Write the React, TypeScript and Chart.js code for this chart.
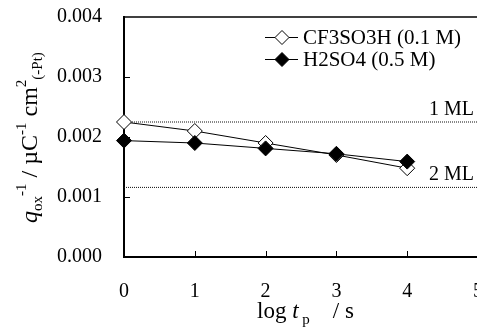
import React, { useEffect, useRef } from 'react';
import { Chart, registerables } from 'chart.js';

Chart.register(...registerables);

// ---- data ----
const logTp = [0, 1, 2, 3, 4];
const cf3so3h = [0.00225, 0.0021, 0.0019, 0.0017, 0.00148];
const h2so4 = [0.00194, 0.0019, 0.00181, 0.00172, 0.00159];
const seriesNames = ['CF3SO3H (0.1 M)', 'H2SO4 (0.5 M)'];
const mlValues = [0.00225, 0.00116];
const mlLabels = ['1 ML', '2 ML'];
const xTicks = [0, 1, 2, 3, 4, 5];
const yTicks = [0, 0.001, 0.002, 0.003, 0.004];

const FONT = "'Liberation Serif', 'Times New Roman', serif";
const W = 520;
const H = 328;

function diamond(ctx: CanvasRenderingContext2D, cx: number, cy: number, r: number, filled: boolean) {
  ctx.beginPath();
  ctx.moveTo(cx - r, cy);
  ctx.lineTo(cx, cy - r);
  ctx.lineTo(cx + r, cy);
  ctx.lineTo(cx, cy + r);
  ctx.closePath();
  ctx.fillStyle = filled ? '#000' : '#fff';
  ctx.fill();
  ctx.lineWidth = 1;
  ctx.strokeStyle = '#000';
  ctx.stroke();
}

const decor = {
  id: 'decor',
  afterDatasetsDraw(chart: any) {
    const { ctx, chartArea: a, scales } = chart;
    const x = scales.x;
    const y = scales.y;
    ctx.save();
    // top frame line
    ctx.strokeStyle = '#000';
    ctx.lineWidth = 1.5;
    ctx.beginPath();
    ctx.moveTo(a.left - 1, a.top);
    ctx.lineTo(a.right + 20, a.top);
    ctx.stroke();
    // inward ticks
    ctx.lineWidth = 1;
    ctx.beginPath();
    yTicks.forEach((v, i) => {
      if (i === 0 || i === yTicks.length - 1) return;
      const py = Math.round(y.getPixelForValue(v)) + 0.5;
      ctx.moveTo(a.left, py);
      ctx.lineTo(a.left + 6, py);
    });
    xTicks.forEach((v, i) => {
      if (i === 0) return;
      const px = Math.round(x.getPixelForValue(v)) + 0.5;
      ctx.moveTo(px, a.bottom);
      ctx.lineTo(px, a.bottom - 6);
    });
    ctx.stroke();

    // ML labels
    ctx.fillStyle = '#000';
    ctx.font = `20px ${FONT}`;
    ctx.textAlign = 'right';
    ctx.textBaseline = 'alphabetic';
    mlValues.forEach((v, i) => {
      ctx.fillText(mlLabels[i], 474, y.getPixelForValue(v) - 7);
    });

    // legend
    const rows = [37, 59];
    seriesNames.forEach((name, i) => {
      const ry = rows[i];
      ctx.strokeStyle = '#000';
      ctx.lineWidth = 1;
      ctx.beginPath();
      ctx.moveTo(265, ry + 0.5);
      ctx.lineTo(298, ry + 0.5);
      ctx.stroke();
      diamond(ctx, 282, ry + 0.5, 7, i === 1);
      ctx.fillStyle = '#000';
      ctx.font = `21px ${FONT}`;
      ctx.textAlign = 'left';
      ctx.textBaseline = 'middle';
      ctx.fillText(name, 303, ry + 1);
    });

    // y axis title (rotated)
    ctx.save();
    ctx.translate(37, 223);
    ctx.rotate(-Math.PI / 2);
    ctx.textAlign = 'left';
    ctx.textBaseline = 'alphabetic';
    ctx.fillStyle = '#000';
    let cx = 0;
    const part = (t: string, size: number, dy: number, italic = false) => {
      ctx.font = `${italic ? 'italic ' : ''}${size}px ${FONT}`;
      ctx.fillText(t, cx, dy);
      cx += ctx.measureText(t).width;
    };
    part('q', 24, 0, true);
    part('ox', 15, 5);
    part('-1', 15, -11);
    part(' / \u00b5C', 24, 0);
    part('-1', 15, -11);
    part(' cm', 24, 0);
    part('2', 15, -11);
    part('(-Pt)', 15, 5);
    ctx.restore();

    // x axis title
    ctx.save();
    ctx.textAlign = 'left';
    ctx.textBaseline = 'alphabetic';
    ctx.fillStyle = '#000';
    let tx = 257;
    const xp = (t: string, size: number, dy: number, italic = false) => {
      ctx.font = `${italic ? 'italic ' : ''}${size}px ${FONT}`;
      ctx.fillText(t, tx, 318 + dy);
      tx += ctx.measureText(t).width;
    };
    xp('log ', 23, 0);
    xp('t', 23, 0, true);
    xp(' p', 15, 6);
    xp('    / s', 23, 0);
    ctx.restore();

    ctx.restore();
  },
};

export default function App() {
  const ref = useRef<HTMLCanvasElement | null>(null);
  useEffect(() => {
    if (!ref.current) return;
    const pts = (ys: number[]) => logTp.map((xv, i) => ({ x: xv, y: ys[i] }));
    const chart = new Chart(ref.current, {
      type: 'scatter',
      data: {
        datasets: [
          {
            label: seriesNames[0],
            data: pts(cf3so3h),
            showLine: true,
            borderColor: '#000',
            borderWidth: 1,
            pointStyle: 'rectRot',
            pointRadius: 7.5,
            pointBackgroundColor: '#fff',
            pointBorderColor: '#000',
            pointBorderWidth: 1,
            clip: false,
            order: 2,
          },
          {
            label: seriesNames[1],
            data: pts(h2so4),
            showLine: true,
            borderColor: '#000',
            borderWidth: 1,
            pointStyle: 'rectRot',
            pointRadius: 7.5,
            pointBackgroundColor: '#000',
            pointBorderColor: '#000',
            pointBorderWidth: 1,
            clip: false,
            order: 1,
          },
          ...mlValues.map((v, i) => ({
            label: mlLabels[i],
            data: [
              { x: xTicks[0], y: v },
              { x: xTicks[xTicks.length - 1] + 1, y: v },
            ],
            showLine: true,
            borderColor: '#111',
            borderWidth: 1,
            borderDash: [1, 1],
            pointRadius: 0,
            order: 3,
          })),
        ],
      },
      options: {
        animation: false,
        responsive: false,
        devicePixelRatio: 1,
        layout: { padding: { left: 0, top: 17, right: W - 478, bottom: 0 } },
        plugins: { legend: { display: false }, tooltip: { enabled: false }, title: { display: false } },
        scales: {
          x: {
            type: 'linear',
            min: xTicks[0],
            max: xTicks[xTicks.length - 1],
            grid: { display: false, drawTicks: false },
            border: { display: true, width: 2, color: '#000' },
            ticks: {
              stepSize: 1,
              padding: 23,
              color: '#000',
              font: { family: FONT, size: 20 },
              callback: (v: any) => String(v),
            },
            afterFit: (s: any) => {
              s.height = H - 257;
              s.paddingLeft = 0;
              s.paddingRight = 0;
              s.paddingTop = 0;
              s.paddingBottom = 0;
            },
          },
          y: {
            type: 'linear',
            min: yTicks[0],
            max: yTicks[yTicks.length - 1],
            grid: { display: false, drawTicks: false },
            border: { display: true, width: 2, color: '#000' },
            ticks: {
              stepSize: 0.001,
              padding: 22,
              color: '#000',
              font: { family: FONT, size: 20 },
              callback: (v: any) => Number(v).toFixed(3),
            },
            afterFit: (s: any) => {
              s.width = 124;
              s.paddingTop = 0;
              s.paddingBottom = 0;
              s.paddingLeft = 0;
              s.paddingRight = 0;
            },
          },
        },
      },
      plugins: [decor],
    });
    return () => chart.destroy();
  }, []);
  return (
    <div
      style={{
        position: 'fixed',
        left: 0,
        top: 0,
        width: 477,
        height: 328,
        overflow: 'hidden',
        background: '#fff',
      }}
    >
      <canvas ref={ref} width={W} height={H} style={{ width: W, height: H, display: 'block' }} />
    </div>
  );
}
